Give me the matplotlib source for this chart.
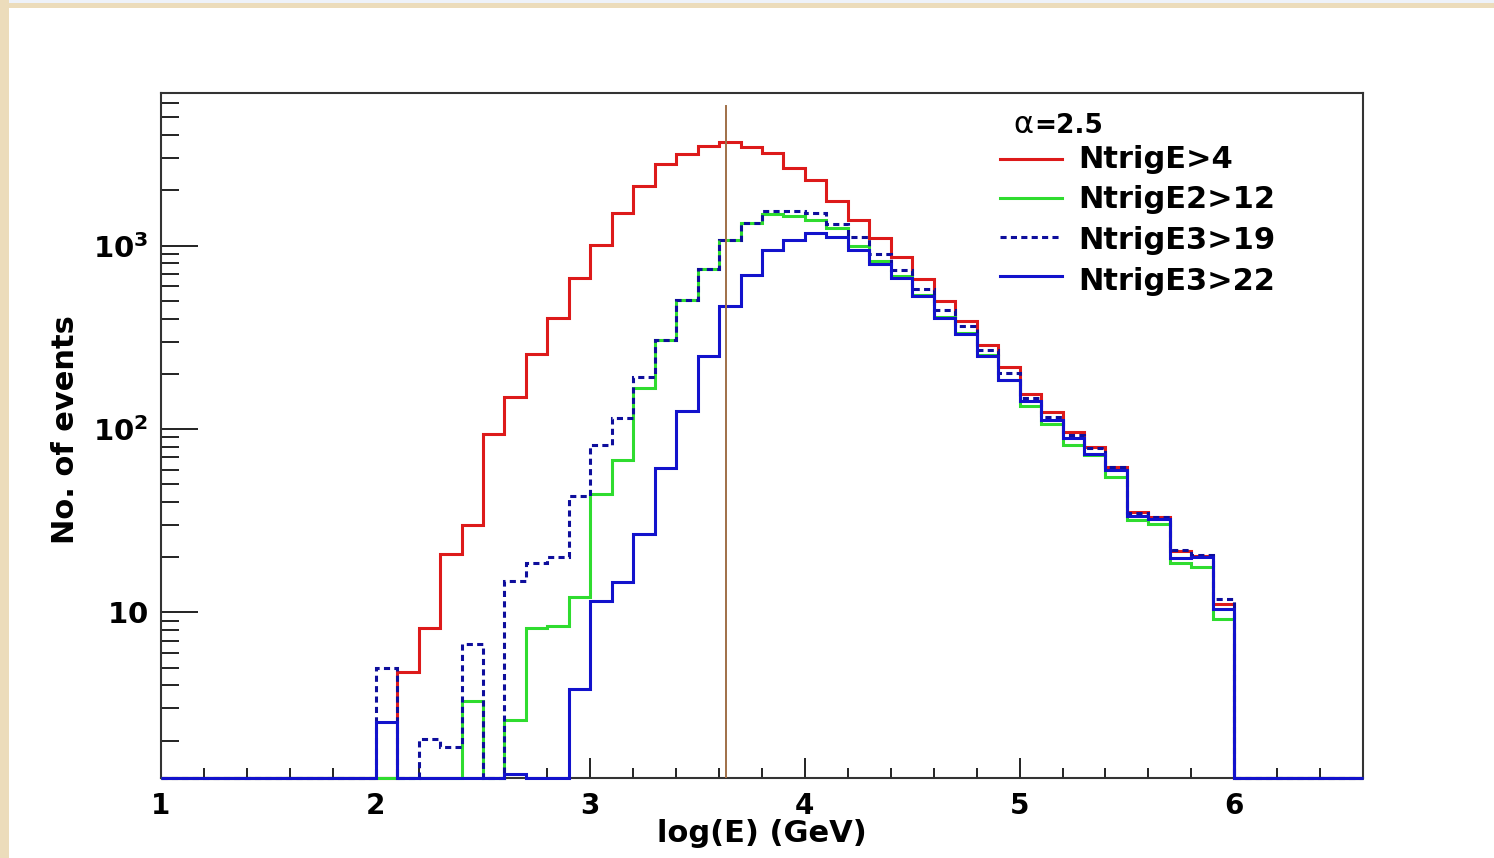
import numpy as np
import matplotlib
matplotlib.use('Agg')
import matplotlib.pyplot as plt
from matplotlib.patches import Rectangle
from matplotlib.lines import Line2D
from matplotlib.ticker import FixedLocator, NullFormatter, FixedFormatter, LogLocator, MultipleLocator

# ---------------- data (bins of width 0.1 from 2.0 to 6.0) ----------------
bin_lo = 2.0
bin_w = 0.1
hist_lo, hist_hi = 1.0, 6.6

ntrig_e4 = [0, 4.74, 8.25, 20.7, 29.8, 94, 150, 258, 405, 667,
            1010, 1507, 2120, 2800, 3170, 3475, 3655, 3435, 3200, 2650,
            2270, 1742, 1373, 1105, 865, 659, 497, 390, 289, 218,
            156, 124, 96.6, 80, 62.2, 35.2, 33.2, 21.6, 20.3, 11.1]
ntrig_e2_12 = [0, 0, 0, 0, 3.29, 0, 2.6, 8.25, 8.4, 12.1,
               44, 68, 168, 307, 508, 747, 1069, 1330, 1493, 1445,
               1373, 1248, 990, 820, 680, 540, 410, 335, 252, 186,
               134, 106, 82, 72, 54.6, 31.8, 30.2, 18.7, 17.7, 9.25]
ntrig_e3_19 = [5.0, 0, 2.03, 1.84, 6.75, 0, 14.8, 18.7, 20.1, 43,
               82, 115, 192, 307, 508, 747, 1069, 1330, 1550, 1550,
               1507, 1320, 1115, 904, 740, 581, 448, 363, 271, 202,
               147, 117, 93, 79, 62, 35, 33, 22, 20.5, 11.9]
ntrig_e3_22 = [2.52, 0, 0, 0, 0, 0, 1.32, 0, 0, 3.8,
               11.5, 14.6, 26.6, 61, 125, 251, 466, 695, 951, 1079,
               1172, 1115, 951, 790, 670, 530, 404, 331, 250, 186,
               142, 112, 89.5, 73, 59.6, 33.5, 32.4, 19.9, 20.1, 10.4]

series_labels = ["NtrigE>4", "NtrigE2>12", "NtrigE3>19", "NtrigE3>22"]
alpha_text = "=2.5"
marker_x = 3.632
x_ticks = [1, 2, 3, 4, 5, 6]
x_tick_labels = ["1", "2", "3", "4", "5", "6"]
y_ticks = [10, 100, 1000]
y_tick_labels = [r'$\mathbf{10}$', r'$\mathbf{10^{2}}$', r'$\mathbf{10^{3}}$']
x_title = "log(E) (GeV)"
y_title = "No. of events"

# ---------------- styles ----------------
W, H, DPI = 1494, 858, 100
c_red = '#dd1a1a'
c_green = '#2fdc2f'
c_blue = '#1212cc'
c_dash = '#0e0e9c'
c_brown = '#a07048'
lw = 2.2
ymin, ymax = 1.25, 6800

def fx(px):
    return px / W

def fy(py):
    return 1 - py / H

fig = plt.figure(figsize=(W / DPI, H / DPI), dpi=DPI, facecolor='white')
# page decoration
fig.patches.append(Rectangle((0, 0), fx(9), 1, transform=fig.transFigure,
                             facecolor='#ecdcbb', edgecolor='none', zorder=-10))
fig.patches.append(Rectangle((0, fy(8)), 1, 5 / H, transform=fig.transFigure,
                             facecolor='#ecdcbb', edgecolor='none', zorder=-10))
fig.patches.append(Rectangle((fx(9), fy(3)), 1, 3 / H, transform=fig.transFigure,
                             facecolor='#eef2f9', edgecolor='none', zorder=-10))

ax = fig.add_axes([fx(161), (H - 778) / H, 1202 / W, 685 / H])
ax.set_yscale('log')
ax.set_xlim(hist_lo, hist_hi)
ax.set_ylim(ymin, ymax)

n_data = len(ntrig_e4)
n_left = int(round((bin_lo - hist_lo) / bin_w))
n_total = int(round((hist_hi - hist_lo) / bin_w))
n_right = n_total - n_left - n_data
edges = hist_lo + bin_w * np.arange(n_total + 1)

def full(vals):
    v = np.concatenate([np.zeros(n_left), np.asarray(vals, float), np.zeros(n_right)])
    return np.where(v > 0, v, ymin)

ax.stairs(full(ntrig_e4), edges, baseline=None, color=c_red, lw=lw, zorder=3, clip_on=False)
ax.stairs(full(ntrig_e2_12), edges, baseline=None, color=c_green, lw=lw, zorder=4, clip_on=False)
ax.stairs(full(ntrig_e3_19), edges, baseline=None, color=c_dash, lw=lw,
          linestyle=(0, (2.0, 1.4)), zorder=5, clip_on=False)
ax.stairs(full(ntrig_e3_22), edges, baseline=None, color=c_blue, lw=lw, zorder=6, clip_on=False)

ax.axvline(marker_x, ymin=0, ymax=(778 - 106) / 685, color=c_brown, lw=1.4, zorder=7)

# axes styling
for s in ax.spines.values():
    s.set_color('#333333')
    s.set_linewidth(1.5)

ax.xaxis.set_major_locator(FixedLocator(x_ticks))
ax.xaxis.set_major_formatter(FixedFormatter(x_tick_labels))
ax.xaxis.set_minor_locator(MultipleLocator(0.2))
ax.yaxis.set_major_locator(FixedLocator(y_ticks))
ax.yaxis.set_major_formatter(FixedFormatter(y_tick_labels))
ax.yaxis.set_minor_locator(LogLocator(base=10, subs=np.arange(2, 10), numticks=20))
ax.yaxis.set_minor_formatter(NullFormatter())

ax.tick_params(axis='x', which='major', direction='in', length=14.4, width=1.4,
               color='#222222', pad=10, labelsize=20, top=False)
ax.tick_params(axis='x', which='minor', direction='in', length=7.2, width=1.4,
               color='#222222', top=False)
ax.tick_params(axis='y', which='major', direction='in', length=26.6, width=1.4,
               color='#222222', pad=9, labelsize=21, right=False)
ax.tick_params(axis='y', which='minor', direction='in', length=13, width=1.4,
               color='#222222', right=False)
for lab in ax.get_xticklabels() + ax.get_yticklabels():
    lab.set_fontweight('bold')

ax.set_xlabel(x_title, fontsize=22, fontweight='bold')
ax.xaxis.label.set_va('center')
ax.xaxis.set_label_coords(0.5, (778 - 833) / 685)
ax.set_ylabel(y_title, fontsize=22, fontweight='bold')
ax.yaxis.label.set_va('center')
ax.yaxis.set_label_coords((65 - 161) / 1202, (778 - 430) / 685)

# legend (drawn manually in figure pixels)
fig.text(fx(1013), fy(133), "\u03b1", fontsize=22, fontweight='normal', va='baseline', ha='left')
fig.text(fx(1034), fy(133), alpha_text, fontsize=19, fontweight='bold', va='baseline', ha='left')
leg_colors = [c_red, c_green, c_dash, c_blue]
leg_styles = ['-', '-', (0, (2.0, 1.4)), '-']
line_y = [159, 198, 237, 276]
text_y = [168, 208.5, 249, 289.5]
for lab, col, ls, ly, ty in zip(series_labels, leg_colors, leg_styles, line_y, text_y):
    fig.add_artist(Line2D([fx(1000), fx(1062)], [fy(ly), fy(ly)], color=col, lw=lw,
                          linestyle=ls, transform=fig.transFigure))
    fig.text(fx(1078), fy(ty), lab, fontsize=22, fontweight='bold', va='baseline', ha='left')

fig.savefig('out.png', dpi=DPI, facecolor=fig.get_facecolor())
